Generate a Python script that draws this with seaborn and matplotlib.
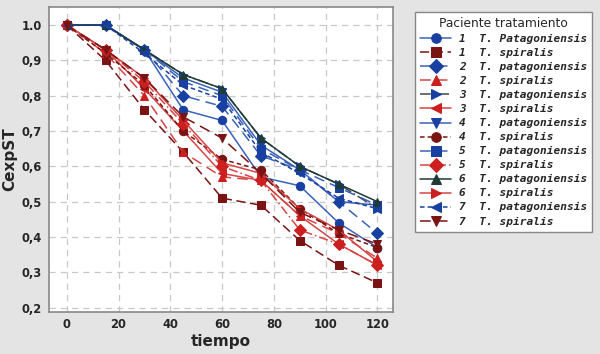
import numpy as np
import pandas as pd
import matplotlib
matplotlib.use("Agg")
import matplotlib.pyplot as plt
import seaborn as sns
from matplotlib.ticker import FixedLocator, FixedFormatter
from matplotlib.font_manager import FontProperties

# datos
tiempo = [0, 15, 30, 45, 60, 75, 90, 105, 120]

pat1 = [1.0, 1.0, 0.93, 0.76, 0.73, 0.57, 0.545, 0.44, 0.37]
pat2 = [1.0, 1.0, 0.93, 0.80, 0.77, 0.63, 0.59, 0.50, 0.41]
pat3 = [1.0, 1.0, 0.93, 0.86, 0.82, 0.68, 0.60, 0.55, 0.48]
pat4 = [1.0, 1.0, 0.93, 0.85, 0.81, 0.66, 0.59, 0.50, 0.49]
pat5 = [1.0, 1.0, 0.93, 0.84, 0.80, 0.65, 0.59, 0.54, 0.49]
pat6 = [1.0, 1.0, 0.93, 0.86, 0.82, 0.68, 0.60, 0.55, 0.50]
pat7 = [1.0, 1.0, 0.92, 0.83, 0.79, 0.64, 0.58, 0.51, 0.48]

spi1 = [1.0, 0.90, 0.76, 0.64, 0.51, 0.49, 0.39, 0.32, 0.27]
spi2 = [1.0, 0.92, 0.80, 0.64, 0.57, 0.56, 0.46, 0.41, 0.34]
spi3 = [1.0, 0.93, 0.82, 0.70, 0.58, 0.56, 0.46, 0.38, 0.32]
spi4 = [1.0, 0.92, 0.83, 0.70, 0.62, 0.59, 0.48, 0.41, 0.37]
spi5 = [1.0, 0.93, 0.84, 0.72, 0.60, 0.56, 0.42, 0.38, 0.32]
spi6 = [1.0, 0.93, 0.85, 0.73, 0.61, 0.58, 0.48, 0.42, 0.33]
spi7 = [1.0, 0.93, 0.85, 0.74, 0.68, 0.58, 0.47, 0.42, 0.38]

pacientes = ["1", "1", "2", "2", "3", "3", "4", "4", "5", "5", "6", "6", "7", "7"]
tratamientos = ["Patagoniensis", "spiralis", "patagoniensis", "spiralis",
                "patagoniensis", "spiralis", "patagoniensis", "spiralis",
                "patagoniensis", "spiralis", "patagoniensis", "spiralis",
                "patagoniensis", "spiralis"]
valores = [pat1, spi1, pat2, spi2, pat3, spi3, pat4, spi4,
           pat5, spi5, pat6, spi6, pat7, spi7]

azul = "#1840a0"
azul_l = "#3a62b8"
rojo = "#cc1f1f"
rojo_l = "#d64545"
oscuro = "#7a1414"
# (color linea, color marcador, marcador, estilo)
estilos = [
    (azul_l, azul, "o", "-"),
    (oscuro, oscuro, "s", (0, (6, 3))),
    (azul_l, azul, "D", (0, (7, 4))),
    (rojo_l, rojo, "^", (0, (7, 4))),
    ("#3d4650", azul, ">", (0, (7, 2, 1, 2))),
    (rojo_l, rojo, "<", "-"),
    (azul_l, azul, "v", "-"),
    (oscuro, oscuro, "o", (0, (3, 2))),
    (azul_l, azul, "s", (0, (7, 4))),
    (rojo_l, rojo, "D", (0, (6, 2, 1, 2))),
    ("#1e3b36", "#1e3b36", "^", "-"),
    (rojo_l, rojo, ">", "-"),
    (azul, azul, "<", (0, (3, 2))),
    (oscuro, oscuro, "v", (0, (7, 4))),
]

sns.set_style("white")
plt.rcParams["font.family"] = ["DejaVu Sans"]

fig = plt.figure(figsize=(6, 3.54), dpi=100, facecolor="#e4e4e4")
ax = fig.add_axes([0.081, 0.12, 0.574, 0.859])
ax.set_facecolor("white")

for p, t, v, (lc, mc, m, ls) in zip(pacientes, tratamientos, valores, estilos):
    df = pd.DataFrame({"tiempo": tiempo, "CexpST": v})
    sns.lineplot(data=df, x="tiempo", y="CexpST", ax=ax, color=lc,
                 marker=m, markersize=6, markerfacecolor=mc, markeredgecolor=mc,
                 linestyle=ls, linewidth=1.1,
                 label=p + "  T. " + t)

h, l = ax.get_legend_handles_labels()
ax.get_legend().remove()

ax.set_xlim(-7, 126)
ax.set_ylim(0.189, 1.05)
ax.xaxis.set_major_locator(FixedLocator([0, 20, 40, 60, 80, 100, 120]))
yt = [0.2, 0.3, 0.4, 0.5, 0.6, 0.7, 0.8, 0.9, 1.0]
ax.yaxis.set_major_locator(FixedLocator(yt))
ax.yaxis.set_major_formatter(FixedFormatter(["0,2", "0,3", "0,4", "0,5", "0,6",
                                             "0,7", "0,8", "0,9", "1.0"]))
ax.grid(True, color="#c8c8c8", linestyle=(0, (5, 4)), linewidth=0.9)
ax.tick_params(axis="both", length=3, color="#777777", labelsize=8.3, direction="out",
               pad=2)
for lab in ax.get_xticklabels() + ax.get_yticklabels():
    lab.set_fontweight("bold")
for s in ax.spines.values():
    s.set_color("#888888")
    s.set_linewidth(1.2)
ax.set_xlabel("tiempo", fontsize=11, fontweight="bold", labelpad=2)
ax.set_ylabel("CexpST", fontsize=11, fontweight="bold", labelpad=3)

prop = FontProperties(family="DejaVu Sans Mono", weight="bold", style="italic", size=8)
leg = fig.legend(h, l, loc="upper left", bbox_to_anchor=(0.683, 0.981),
                 title="Paciente tratamiento", prop=prop, frameon=True,
                 fancybox=False, edgecolor="#888888", facecolor="white",
                 framealpha=1, handlelength=2.8, labelspacing=0.36,
                 borderpad=0.45, handletextpad=0.7, markerscale=1.15)
leg.get_title().set_fontsize(8.8)
leg.get_title().set_family("DejaVu Sans")
leg.get_frame().set_linewidth(1.0)

fig.savefig("out.png", dpi=100, facecolor=fig.get_facecolor())
